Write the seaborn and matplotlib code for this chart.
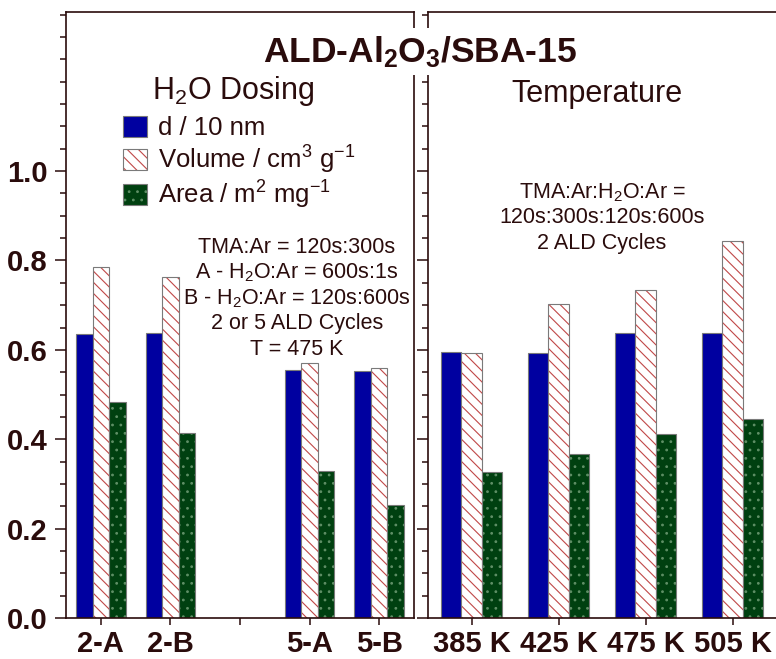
import matplotlib
matplotlib.use("Agg")
import matplotlib.pyplot as plt
import numpy as np
import pandas as pd
import seaborn as sns
from matplotlib.colors import to_rgba
from matplotlib.ticker import FixedLocator, MultipleLocator, FormatStrFormatter

# ---- data -----------------------------------------------------------------
dosing_samples = ["2-A", "2-B", "5-A", "5-B"]
dosing_slots = ["2-A", "2-B", "", "5-A", "5-B"]   # empty slot separates 2- and 5-cycle runs
dosing_d = [0.636, 0.638, 0.554, 0.552]
dosing_volume = [0.785, 0.762, 0.570, 0.559]
dosing_area = [0.483, 0.414, 0.329, 0.253]

temp_samples = ["385 K", "425 K", "475 K", "505 K"]
temp_d = [0.595, 0.593, 0.638, 0.637]
temp_volume = [0.593, 0.703, 0.734, 0.843]
temp_area = [0.327, 0.368, 0.412, 0.446]

series_labels = ["d / 10 nm", "Volume / cm$^3$ g$^{-1}$", "Area / m$^2$ mg$^{-1}$"]
y_major = [0.0, 0.2, 0.4, 0.6, 0.8, 1.0]
y_max = 1.356

# ---- style ----------------------------------------------------------------
INK = "#2a0c0c"
BLUE = "#0000a0"
GREEN = "#004010"
HATCH_RED = "#c04848"
DOT = "#5f8f66"
EDGE = "#7a7a7a"

sns.set_style("ticks")
plt.rcParams.update({
    "font.family": ["Liberation Sans", "DejaVu Sans"],
    "mathtext.fontset": "custom",
    "mathtext.rm": "Liberation Sans",
    "mathtext.it": "Liberation Sans:italic",
    "mathtext.bf": "Liberation Sans:bold",
    "mathtext.default": "regular",
    "text.color": INK,
    "axes.edgecolor": INK,
    "axes.labelcolor": INK,
    "xtick.color": INK,
    "ytick.color": INK,
    "hatch.linewidth": 0.8,
})


def long_frame(samples, d, vol, area):
    rows = []
    for s, a, b, c in zip(samples, d, vol, area):
        rows.append((s, series_labels[0], a))
        rows.append((s, series_labels[1], b))
        rows.append((s, series_labels[2], c))
    return pd.DataFrame(rows, columns=["sample", "series", "value"])


W, H = 776, 659
fig = plt.figure(figsize=(W / 100, H / 100), dpi=100)
ax_l = fig.add_axes([66 / W, 41 / H, 348 / W, 606 / H])
ax_r = fig.add_axes([428 / W, 41 / H, 348 / W, 606 / H])

bar_styles = [
    dict(face=BLUE, hatch=None, hc=None),
    dict(face="white", hatch="\\\\\\", hc=HATCH_RED),
    dict(face=GREEN, hatch="..", hc=DOT),
]


def draw_panel(ax, df, order):
    sns.barplot(data=df, x="sample", y="value", hue="series", order=order,
                hue_order=series_labels, width=0.71, saturation=1,
                errorbar=None, legend=False, ax=ax)
    for cont, st in zip(ax.containers, bar_styles):
        for p in cont.patches:
            p.set_facecolor(st["face"])
            p.set_edgecolor(EDGE)
            p.set_linewidth(0.8)
            if st["hatch"]:
                p.set_hatch(st["hatch"])
                if hasattr(p, "set_hatchcolor"):
                    p.set_hatchcolor(st["hc"])
                else:
                    p._hatch_color = to_rgba(st["hc"])
    ax.set_xlim(-0.5, len(order) - 0.5)
    ax.set_ylim(0, y_max)
    ax.set_xlabel("")
    ax.set_ylabel("")
    ax.yaxis.set_major_locator(FixedLocator(y_major))
    ax.yaxis.set_minor_locator(MultipleLocator(0.05))
    ax.yaxis.set_major_formatter(FormatStrFormatter("%.1f"))
    ax.tick_params(axis="y", which="major", length=8, width=1.1, direction="out",
                   labelsize=21, pad=5)
    ax.tick_params(axis="y", which="minor", length=4.5, width=1.1, direction="out")
    ax.tick_params(axis="x", which="major", length=5, width=1.1, direction="out",
                   labelsize=21, pad=4)
    for sp in ax.spines.values():
        sp.set_linewidth(1.2)
        sp.set_color(INK)


draw_panel(ax_l, long_frame(dosing_samples, dosing_d, dosing_volume, dosing_area),
           dosing_slots)
draw_panel(ax_r, long_frame(temp_samples, temp_d, temp_volume, temp_area),
           temp_samples)

ax_r.spines["right"].set_visible(False)
ax_r.tick_params(axis="y", which="both", labelleft=False)

for ax in (ax_l, ax_r):
    plt.setp(ax.get_xticklabels(), fontweight="bold")
    plt.setp(ax.get_yticklabels(), fontweight="bold")

# legend built from the first bar of each series
handles = [c.patches[0] for c in ax_l.containers]
ax_l.legend(handles, series_labels, loc="upper left",
            bbox_to_anchor=(0.165, 0.828), frameon=False, fontsize=18.5,
            handlelength=0.9, handleheight=0.85, handletextpad=0.45,
            labelspacing=0.12, borderpad=0, borderaxespad=0)


def put(x, y, s, **kw):
    fig.text(x / W, 1 - y / H, s, **kw)


put(420, 62, "ALD-Al$_2$O$_3$/SBA-15", ha="center", va="baseline",
    fontsize=25.5, fontweight="bold", zorder=10,
    bbox=dict(facecolor="white", edgecolor="none", pad=4))
put(233, 99, "H$_2$O Dosing", ha="center", va="baseline", fontsize=22)
put(597, 102, "Temperature", ha="center", va="baseline", fontsize=22)

left_notes = ["TMA:Ar = 120s:300s",
              "A - H$_2$O:Ar = 600s:1s",
              "B - H$_2$O:Ar = 120s:600s",
              "2 or 5 ALD Cycles",
              "T = 475 K"]
for i, line in enumerate(left_notes):
    put(297, 253 + 25.5 * i, line, ha="center", va="baseline", fontsize=15.5)

right_notes = ["TMA:Ar:H$_2$O:Ar =",
               "120s:300s:120s:600s",
               "2 ALD Cycles"]
for i, line in enumerate(right_notes):
    put(602, 198 + 25.5 * i, line, ha="center", va="baseline", fontsize=15.5)

fig.savefig("out.png", dpi=100)
